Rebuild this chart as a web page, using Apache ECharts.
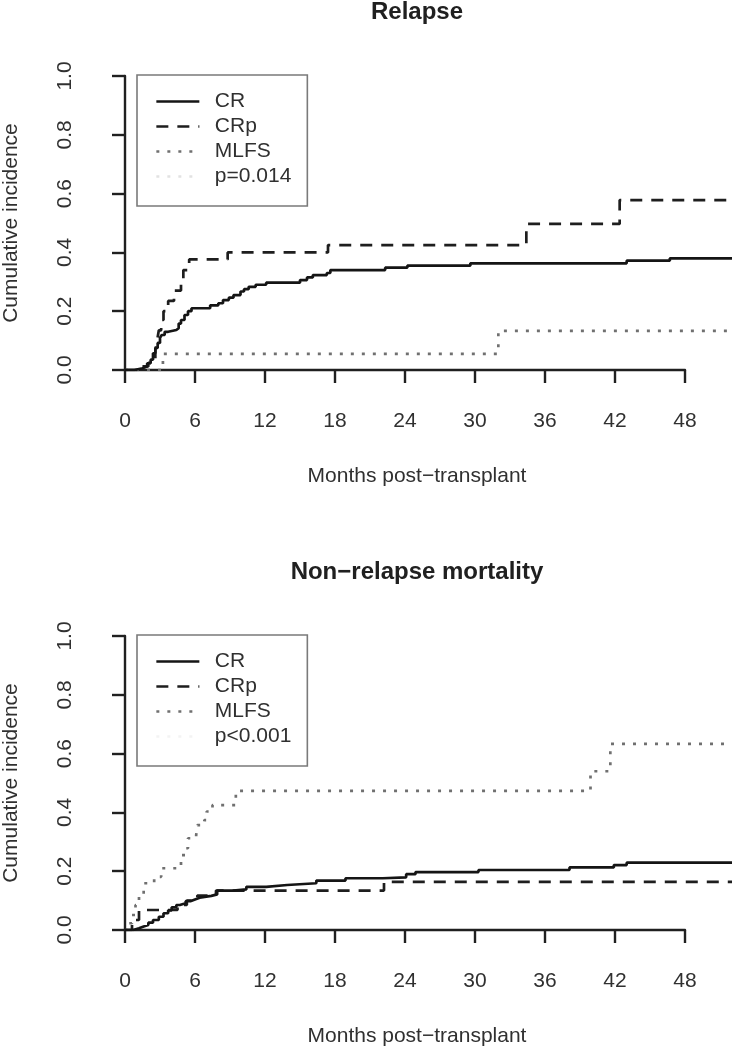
<!DOCTYPE html>
<html>
<head>
<meta charset="utf-8">
<script src="https://cdn.jsdelivr.net/npm/echarts@6/dist/echarts.min.js"></script>
<style>
html,body{margin:0;padding:0;background:#fff;}
#chart{width:732px;height:1050px;}
</style>
</head>
<body>
<div id="chart"></div>
<script>
// ---------- data (months, cumulative incidence) ----------
var xTicks = [0, 6, 12, 18, 24, 30, 36, 42, 48];
var yTicks = [0.0, 0.2, 0.4, 0.6, 0.8, 1.0];
var titles = ['Relapse', 'Non\u2212relapse mortality'];
var xTitle = 'Months post\u2212transplant';
var yTitle = 'Cumulative incidence';
var groups = ['CR', 'CRp', 'MLFS'];
var pValues = ['p=0.014', 'p<0.001'];

var relapseCR = [[0,0],[0.8,0.006],[1.5,0.012],[1.9,0.023],[2.2,0.035],[2.4,0.057],[2.6,0.075],[2.8,0.092],[3.0,0.11],[3.15,0.119],[3.4,0.13],[3.7,0.136],[4.4,0.142],[4.6,0.158],[4.8,0.17],[5.1,0.187],[5.4,0.2],[5.7,0.21],[7.3,0.22],[8.0,0.227],[8.4,0.238],[8.9,0.246],[9.3,0.255],[9.9,0.267],[10.2,0.275],[10.6,0.283],[11.2,0.29],[12.1,0.297],[15.0,0.306],[15.6,0.315],[16.1,0.323],[17.3,0.33],[17.6,0.34],[22.3,0.348],[24.2,0.355],[29.6,0.363],[43.0,0.372],[46.7,0.38],[52.1,0.38]];
var relapseCRp = [[0,0],[1.3,0.012],[2.0,0.024],[2.4,0.034],[2.6,0.068],[2.75,0.10],[2.9,0.135],[3.1,0.17],[3.3,0.20],[3.7,0.235],[4.2,0.27],[4.8,0.30],[5.0,0.34],[5.5,0.376],[8.8,0.40],[17.4,0.425],[34.4,0.497],[42.4,0.578],[52.1,0.578]];
var relapseMLFS = [[0,0],[3.25,0.055],[32.0,0.133],[52.1,0.133]];

var nrmCR = [[0,0],[0.7,0.006],[1.2,0.012],[1.6,0.017],[2.0,0.025],[2.4,0.034],[2.9,0.045],[3.3,0.057],[3.7,0.067],[4.0,0.077],[4.4,0.085],[4.7,0.091],[5.2,0.098],[5.6,0.104],[6.0,0.11],[6.4,0.116],[7.4,0.121],[7.9,0.134],[9.3,0.138],[10.4,0.147],[12.1,0.153],[13.9,0.159],[16.4,0.168],[18.9,0.176],[22.1,0.179],[24.1,0.19],[24.9,0.197],[30.3,0.204],[38.1,0.213],[41.9,0.221],[43.0,0.229],[52.1,0.229]];
var nrmCRp = [[0,0],[0.6,0.034],[1.2,0.068],[4.5,0.085],[5.3,0.1],[6.2,0.117],[7.8,0.134],[22.2,0.164],[52.1,0.164]];
var nrmMLFS = [[0,0],[0.2,0.023],[0.6,0.051],[0.9,0.085],[1.2,0.12],[1.6,0.159],[2.5,0.181],[3.1,0.21],[4.8,0.255],[5.2,0.278],[5.4,0.312],[6.1,0.323],[6.2,0.357],[6.8,0.374],[7.0,0.403],[7.5,0.425],[9.5,0.473],[39.9,0.54],[41.6,0.633],[52.1,0.633]];

var panelData = [[relapseCR, relapseCRp, relapseMLFS], [nrmCR, nrmCRp, nrmMLFS]];

// ---------- layout / style ----------
var FONT = '"Liberation Sans", Arial, Helvetica, sans-serif';
var PX_PER_MONTH = 560 / 48;
var X0 = 125, PANEL_TOP = [76, 636], PLOT_H = 294, W = 732;
var dataMax = (W - X0) / PX_PER_MONTH;
var styles = [
  {color: '#151515', width: 2.7, type: 'solid'},
  {color: '#1e1e1e', width: 2.7, type: [12, 9]},
  {color: '#707070', width: 2.7, type: [3, 8]}
];
var pStyle = [{color: '#e2e2e2', width: 2.7, type: [3, 8]}, {color: '#f3f3f3', width: 2.7, type: [3, 8]}];
var axisStyle = {color: '#202020', width: 2.4};

function build(f) {
  var grids = [], xAxes = [], yAxes = [], series = [], legends = [], graphics = [];
  for (var p = 0; p < 2; p++) {
    var top = PANEL_TOP[p];
    grids.push({left: X0, top: top, width: W - X0, height: PLOT_H});
    grids.push({left: X0, top: top, width: 560, height: PLOT_H});
    var gd = p * 2, ga = p * 2 + 1;
    xAxes.push({gridIndex: gd, type: 'value', min: 0, max: dataMax, show: false});
    xAxes.push({gridIndex: ga, type: 'value', min: xTicks[0], max: xTicks[xTicks.length - 1], interval: 6, offset: 10,
      axisLine: {show: true, lineStyle: axisStyle},
      axisTick: {show: true, length: 13, lineStyle: axisStyle},
      splitLine: {show: false},
      axisLabel: {fontSize: 21, fontFamily: FONT, color: '#303030', margin: 31}
    });
    yAxes.push({gridIndex: gd, type: 'value', min: yTicks[0], max: yTicks[yTicks.length - 1], interval: 0.2, offset: 25,
      axisLine: {show: true, lineStyle: axisStyle},
      axisTick: {show: true, length: 13, lineStyle: axisStyle},
      splitLine: {show: false},
      axisLabel: {fontSize: 21, fontFamily: FONT, color: '#303030', margin: 24, rotate: 90,
        formatter: function (v) { return v.toFixed(1); }}
    });
    yAxes.push({gridIndex: ga, type: 'value', min: 0, max: 1, show: false});

    for (var s = 0; s < 3; s++) {
      series.push({
        name: groups[s], type: 'line', step: 'end',
        xAxisIndex: gd, yAxisIndex: gd,
        data: panelData[p][s], symbol: 'none', showSymbol: false,
        lineStyle: {color: styles[s].color, width: styles[s].width, type: styles[s].type},
        itemStyle: {color: styles[s].color},
        animation: false, silent: true, z: 3 - s
      });
    }
    series.push({
      name: pValues[p], type: 'line', xAxisIndex: gd, yAxisIndex: gd, data: [],
      symbol: 'none', lineStyle: {color: pStyle[p].color, width: pStyle[p].width, type: pStyle[p].type},
      itemStyle: {color: pStyle[p].color}, animation: false, silent: true
    });
    var lg = {
      left: 137, top: top - 1, orient: 'vertical',
      data: groups.concat([pValues[p]]),
      itemWidth: 43, itemHeight: 14, itemGap: 0,
      selectedMode: false,
      padding: [14, 16, 17, 18],
      borderColor: '#7a7a7a', borderWidth: 1.6,
      formatter: function (n) { return '\u2002' + n; },
      textStyle: {fontSize: 21, fontFamily: FONT, color: '#303030', lineHeight: 25}
    };
    if (f.hideSym) lg.itemStyle = {opacity: 0};
    if (f.lineW) lg.lineStyle = {width: 2.7};
    legends.push(lg);
    graphics.push({type: 'text', x: 417, y: top - 64, silent: true,
      style: {text: titles[p], fontSize: 24, fontWeight: 'bold', fontFamily: FONT, fill: '#202020',
        align: 'center', verticalAlign: 'middle'}});
    graphics.push({type: 'text', x: 417, y: top + 400, silent: true,
      style: {text: xTitle, fontSize: 21, fontFamily: FONT, fill: '#303030',
        align: 'center', verticalAlign: 'middle'}});
    graphics.push({type: 'text', x: 11, y: top + 147, rotation: Math.PI / 2, silent: true,
      style: {text: yTitle, fontSize: 21, fontFamily: FONT, fill: '#303030',
        align: 'center', verticalAlign: 'middle'}});
  }
  return {backgroundColor: '#ffffff', animation: false, grid: grids, xAxis: xAxes, yAxis: yAxes,
    series: series, legend: legends, graphic: graphics};
}

var el = document.getElementById('chart');
var attempts = [{hideSym: true, lineW: true}, {hideSym: true, lineW: false}, {hideSym: false, lineW: false}];
var chart = null;
for (var i = 0; i < attempts.length; i++) {
  try {
    if (chart) chart.dispose();
    chart = echarts.init(el, null, {width: 732, height: 1050});
    chart.setOption(build(attempts[i]));
    break;
  } catch (e) { /* try a simpler variant */ }
}
</script>
</body>
</html>
